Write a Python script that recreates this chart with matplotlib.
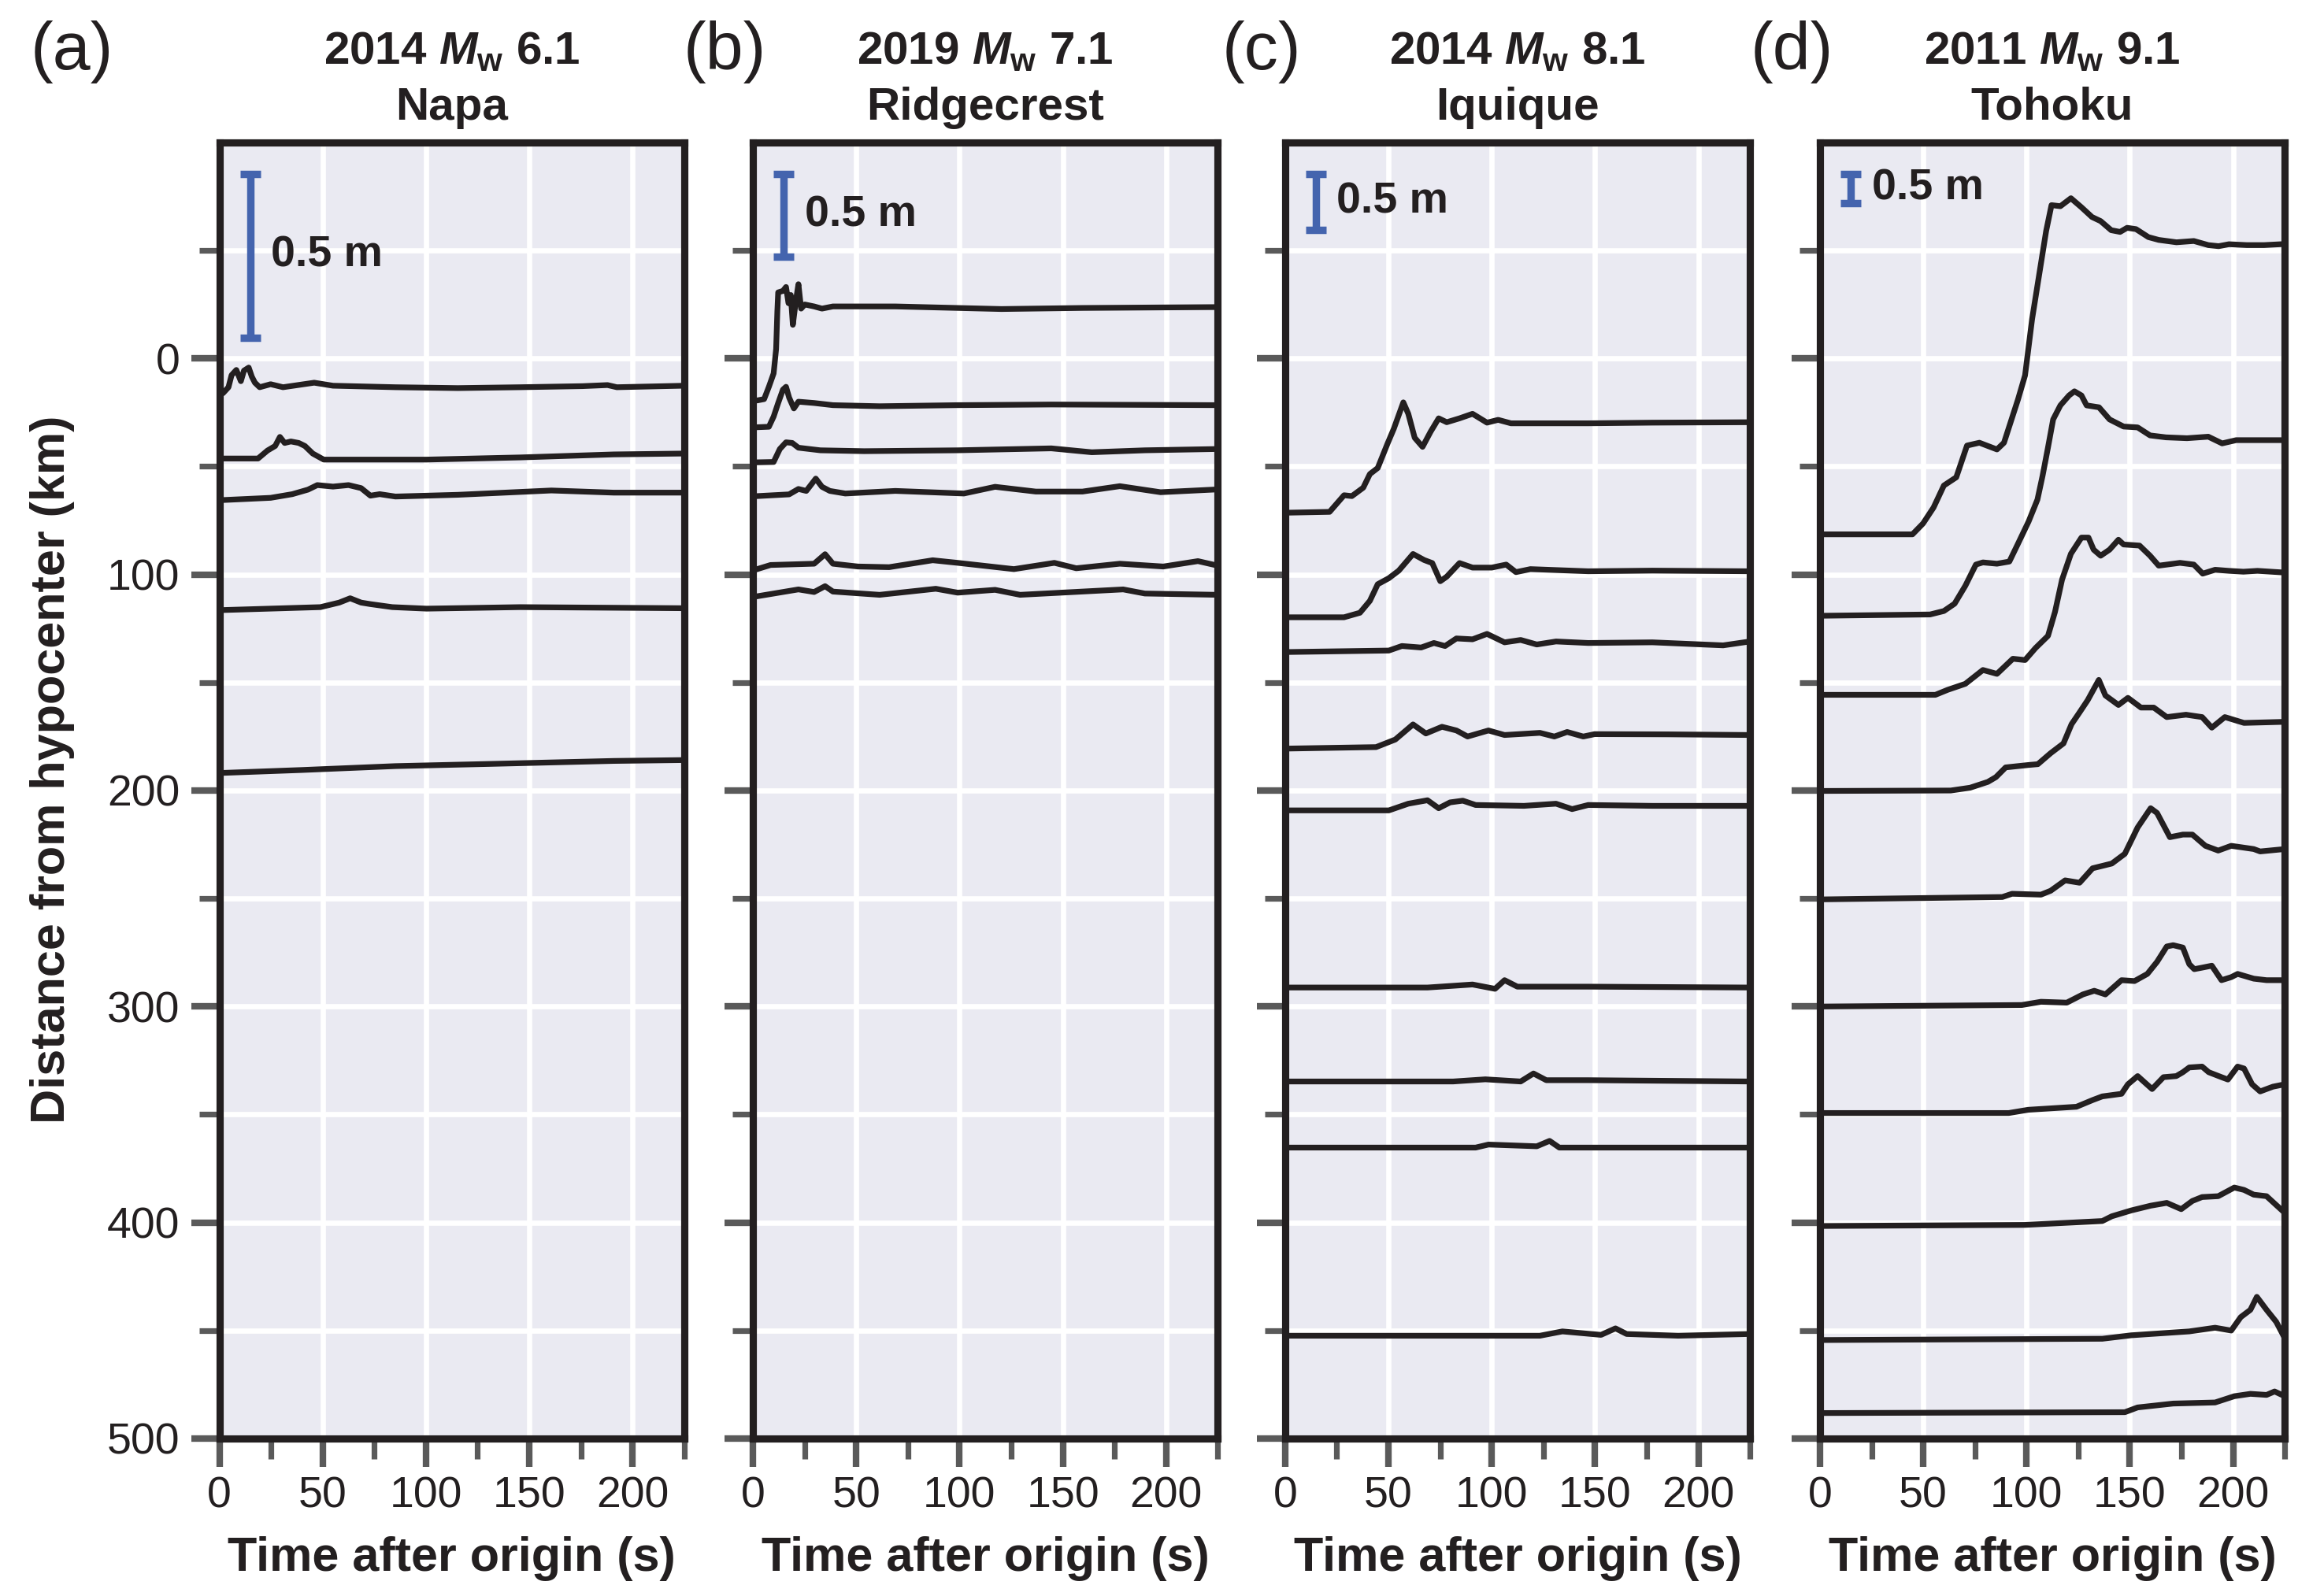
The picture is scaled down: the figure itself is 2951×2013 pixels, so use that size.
import matplotlib
matplotlib.use("Agg")
import matplotlib.pyplot as plt
from matplotlib.ticker import FixedLocator

plt.rcParams['font.family'] = ['Liberation Sans', 'DejaVu Sans']
plt.rcParams['mathtext.fontset'] = 'custom'
plt.rcParams['mathtext.it'] = 'Liberation Sans:italic:bold'
plt.rcParams['mathtext.rm'] = 'Liberation Sans:bold'
plt.rcParams['mathtext.bf'] = 'Liberation Sans:bold'

# ---- data: traces drawn at (time s, plotted distance km) ----
napa_t = [
    [0, 1.8, 4.4, 5.9, 8.2, 10.4, 11.9, 14.2, 15.7, 17.2, 19.5, 24.8, 30.8, 45.9, 55, 85.2, 115.4, 145.6, 175.8, 187.9, 192.4, 225],
    [0, 18.7, 23.3, 27, 29.3, 31.6, 34.6, 38.4, 41.4, 45.2, 50.5, 62.5, 100.3, 145.6, 190.9, 225],
    [0, 24.8, 35.3, 42.9, 47.4, 55, 62.5, 68.6, 73.1, 77.6, 85.2, 115.4, 160.7, 190.9, 225],
    [0, 48.9, 58, 63.3, 68.6, 73.1, 83.7, 100.3, 145.6, 225],
    [0, 39.9, 85.2, 130.5, 160.7, 190.9, 225],
]
napa_y = [
    [17, 16, 13.3, 7.7, 5.3, 10.5, 5.6, 4.2, 8.4, 11.2, 13.3, 11.9, 13.3, 11.2, 12.6, 13.3, 13.7, 13.3, 12.8, 12.3, 13.3, 12.6],
    [46.3, 46.3, 42.6, 40.5, 36.3, 39.1, 38.4, 39.1, 40.5, 44, 46.8, 46.8, 46.8, 45.8, 44.4, 44],
    [65.6, 64.5, 62.8, 60.7, 58.6, 59.3, 58.6, 60, 63.5, 62.8, 63.9, 63.1, 61.1, 62.1, 62.1],
    [116.5, 115.1, 113, 111, 113, 113.7, 115.1, 115.8, 115.1, 115.6],
    [191.9, 190.5, 188.7, 187.7, 187, 186.3, 185.9],
]

ridge_t = [
    [0, 2.1, 5.4, 7.7, 10, 11.2, 11.8, 12.2, 14.5, 16, 17.2, 18.3, 19.3, 20.8, 22, 23.3, 25.1, 29.6, 33.4, 38.7, 68.9, 120.2, 159.5, 225],
    [0, 7.7, 10, 12.2, 14.5, 16, 17.5, 19.8, 22, 29.6, 38.7, 61.3, 99.1, 144.4, 225],
    [0, 10, 13, 16, 19, 22, 32.6, 53.8, 99.1, 144.4, 164, 189.7, 225],
    [0, 17.5, 22, 25.8, 30.4, 33.4, 37.2, 44.7, 68.9, 102.1, 117.2, 136.9, 159.5, 177.6, 197.3, 225],
    [0, 8.5, 29.6, 34.9, 38.7, 50.8, 65.9, 87, 99.1, 126.3, 145.9, 156.5, 177.6, 198.6, 215.4, 225],
    [0, 22, 29.6, 34.9, 38.7, 61.3, 88.5, 99.1, 117.2, 129.3, 179.2, 189.7, 225],
]
ridge_y = [
    [19.4, 19.4, 18.8, 13.1, 6.9, -4.4, -21.9, -30.6, -31.3, -33.1, -25.6, -29.4, -15.6, -26.9, -34.4, -23.1, -25, -24.1, -23.1, -24.1, -24.1, -22.9, -23.4, -23.8],
    [31.9, 31.6, 26.9, 20.6, 14.4, 13.1, 18.1, 23.1, 20, 20.6, 21.6, 22.1, 21.6, 21.3, 21.6],
    [48.1, 47.9, 41.9, 38.8, 39.1, 41.3, 42.5, 42.9, 42.5, 41.6, 43.4, 42.5, 41.9],
    [63.8, 62.9, 60.4, 61.3, 55.6, 59.4, 61.3, 62.5, 61.3, 62.5, 59.4, 61.6, 61.6, 59.1, 61.9, 60.6],
    [98.1, 95.6, 95, 90.6, 95, 96.3, 96.6, 93.4, 94.6, 97.5, 94.6, 97.1, 95, 96.3, 93.8, 95.9],
    [110.4, 106.9, 108.1, 105.4, 107.9, 109.4, 106.6, 108.4, 107.1, 109.4, 106.9, 108.8, 109.4],
]

iqui_t = [
    [0, 21.5, 28.5, 32.3, 37.8, 41, 44.8, 49.5, 52.6, 57.2, 59.6, 62.7, 66.5, 70.4, 74.3, 78.2, 84.4, 90.7, 97.7, 103.1, 109.3, 146.7, 177.8, 225],
    [0, 28.5, 36.2, 41, 44.8, 50.2, 55, 61.9, 67.3, 71.2, 75.1, 78.2, 84.4, 90.7, 100, 107, 111.7, 118.7, 146.7, 177.8, 225],
    [0, 50.2, 56.5, 65.8, 72, 77.4, 82.9, 90.7, 97.7, 106.2, 114, 121.8, 131.1, 146.7, 177.8, 212, 225],
    [0, 44, 53.3, 61.9, 68.1, 75.9, 82.9, 88.3, 98.4, 106.2, 123.3, 130.3, 136.5, 144.3, 149.8, 185.5, 225],
    [0, 50.2, 59.6, 68.9, 74.3, 79.8, 86, 92.2, 115.6, 131.1, 138.9, 146.7, 177.8, 225],
    [0, 68.9, 90.7, 101.6, 106.2, 112.4, 146.7, 225],
    [0, 81.3, 96.9, 114, 120.2, 126.4, 146.7, 225],
    [0, 92.2, 98.4, 121.8, 128, 132.7, 225],
    [0, 123.3, 134.2, 152.9, 159.9, 165.3, 190.2, 225],
]
iqui_y = [
    [71.4, 71, 63.3, 63.7, 59.8, 53.5, 50.7, 39.5, 32.5, 20.3, 25.6, 36.7, 40.9, 33.9, 27.7, 29.5, 27.7, 25.6, 29.7, 28.4, 30, 30, 29.7, 29.5],
    [119.8, 119.8, 117.7, 112.2, 104.5, 101.7, 98.2, 90.5, 93.3, 94.7, 103.1, 101, 94.7, 96.8, 96.8, 95.4, 98.9, 97.5, 98.5, 98.2, 98.5],
    [135.9, 135.2, 133.1, 133.8, 131.7, 133.1, 129.6, 130, 127.5, 131.4, 130.3, 132.4, 131, 131.7, 131.4, 132.8, 131],
    [180.6, 179.9, 176.4, 169.4, 173.6, 170.5, 172.2, 175, 172.2, 174.3, 173.3, 175, 172.9, 175, 173.9, 174, 174.3],
    [209.2, 209.2, 206.1, 204.5, 208.2, 205.5, 204.7, 206.7, 207.1, 206.1, 208.6, 206.7, 207.1, 207.1],
    [291.2, 291.2, 289.8, 291.8, 287.8, 290.8, 290.8, 291.2],
    [334.7, 334.7, 333.7, 334.7, 331, 334.1, 334.1, 334.7],
    [365.3, 365.3, 363.9, 364.7, 362.2, 365.3, 365.3],
    [452.4, 452.4, 450.4, 452, 449, 451.6, 452.4, 451.6],
]

toho_t = [
    [0, 44.8, 49.9, 55, 60, 66, 71.2, 77.2, 85.7, 89.1, 95.9, 99.3, 102.7, 106.1, 109.5, 112.1, 116.4, 121.5, 126.6, 131.7, 135.9, 141, 145.3, 148.7, 153, 159, 164, 172.6, 181, 188, 193, 198, 206.6, 215, 225],
    [0, 53.3, 60, 65.2, 70.4, 75.5, 78.9, 85.7, 91.7, 95.9, 101, 105.3, 107.8, 110.4, 112.9, 116.4, 120.6, 123.2, 126.6, 129.1, 135.1, 140.2, 147, 153.8, 159.8, 167.5, 177.7, 188, 194.7, 201.5, 211.8, 225],
    [0, 55.9, 61.8, 70.4, 78.9, 85.7, 93.4, 99.3, 104.4, 110.4, 113.8, 117.2, 121.5, 126.6, 130, 132.5, 135.9, 140.2, 144.5, 147, 154.7, 159.8, 164, 174.3, 181, 185.3, 191.3, 198, 205, 211.8, 225],
    [0, 63.3, 72.7, 81.3, 85.2, 89.9, 100.8, 105.5, 111.7, 117.9, 121.8, 125.7, 129.6, 135, 138.2, 144.5, 149.1, 155.4, 161.6, 167.9, 177.2, 185, 189.7, 196, 205.3, 225],
    [0, 88.3, 93, 107, 111.7, 118.7, 125.7, 132, 141.3, 147.6, 153.8, 160.1, 163.2, 169.4, 175.7, 180.3, 186.6, 192.8, 199.1, 210, 213.1, 225],
    [0, 97.7, 107, 119.5, 127.3, 132.8, 138.2, 146, 152.3, 158.5, 163.2, 167.9, 171, 175.7, 178.8, 181.2, 185, 189.7, 194.4, 199.1, 202.2, 210, 216.2, 225],
    [0, 91.4, 100.8, 124.2, 132, 136.7, 146, 149.1, 153.8, 160.8, 166.3, 172.5, 175.7, 178.8, 185, 188.2, 194.4, 197.5, 202.2, 205.3, 209.2, 213.1, 219.3, 225],
    [0, 99.2, 136.7, 141.3, 150.7, 160.1, 167.9, 174.9, 180.3, 185, 192.8, 200.6, 205.3, 210, 216.2, 225],
    [0, 136.7, 150.7, 178.8, 191.3, 199.1, 203.7, 208.4, 211.5, 216.2, 220.9, 225],
    [0, 147.6, 153.8, 171, 191.3, 200.6, 208.4, 216.2, 220.1, 225],
]
toho_y = [
    [81.4, 81.4, 76.4, 69, 58.8, 55, 40.3, 39, 42.1, 39, 18.9, 7.8, -18.2, -38.6, -59, -71, -70.5, -74.2, -70, -65.5, -63.6, -59.4, -58.6, -60.5, -59.9, -56.2, -54.9, -53.8, -54.4, -52.5, -52, -52.9, -52.5, -52.5, -53],
    [119.1, 118.5, 116.9, 113.5, 105.2, 95.4, 94.4, 95, 94, 85.7, 75.5, 65.3, 54.2, 41.2, 28.2, 21.7, 17.1, 15.2, 17.1, 21.7, 22.6, 28.2, 31.5, 31.9, 35.6, 36.5, 36.9, 36.2, 39.3, 37.8, 37.8, 37.8],
    [155.7, 155.7, 153.4, 150.6, 144.2, 146, 139, 139.6, 134, 128.4, 117.3, 102.4, 90.4, 82.9, 82.9, 88.5, 91.3, 88.5, 83.9, 86.1, 86.6, 91.3, 95.9, 94.6, 95.4, 99.6, 97.8, 98.3, 98.7, 98.3, 99.1],
    [200.2, 200, 198.7, 196, 193.8, 189.3, 188.2, 187.8, 182.7, 178.2, 169.3, 163.8, 158.2, 148.8, 156, 160.4, 157.1, 161.6, 161.6, 166, 164.9, 166, 170.9, 166, 168.7, 168.2],
    [250.4, 249.3, 247.8, 248.2, 246.4, 241.6, 242.7, 236, 233.8, 229.3, 217.1, 208.2, 210.4, 221.6, 220.4, 220.4, 225.6, 227.8, 225.6, 227.1, 228.2, 227.1],
    [300, 299.3, 297.8, 298.2, 294.4, 292.7, 294.4, 287.8, 288.2, 284.9, 279.3, 272.2, 271.6, 272.7, 280.4, 282.7, 282, 281.1, 287.8, 286.4, 284.9, 287.1, 287.8, 287.8],
    [349.3, 349.3, 347.8, 346.4, 343.3, 341.6, 340.4, 336, 332.2, 338.2, 332.7, 332.2, 330.4, 328.2, 327.8, 330.4, 332.7, 333.8, 327.8, 328.7, 336, 339.3, 337.1, 336],
    [401.6, 401.1, 399.3, 397.1, 394.4, 392.2, 390.9, 393.8, 390, 388.2, 387.8, 383.8, 384.9, 387.1, 387.8, 395.5],
    [454.4, 453.8, 452.2, 450.4, 448.7, 450, 443.8, 440.4, 434.4, 440.4, 446, 453.5],
    [488.2, 487.8, 485.6, 483.8, 483.3, 480.4, 479.3, 479.8, 478.2, 480.4],
]

panel_letters = ['(a)', '(b)', '(c)', '(d)']
titles_top = [r'2014 $M_{\mathrm{w}}$ 6.1', r'2019 $M_{\mathrm{w}}$ 7.1',
              r'2014 $M_{\mathrm{w}}$ 8.1', r'2011 $M_{\mathrm{w}}$ 9.1']
titles_bottom = ['Napa', 'Ridgecrest', 'Iquique', 'Tohoku']
bar_len_km = [75.8, 38.2, 26.0, 13.4]   # length of the 0.5 m bar in plot units
bar_top = -85.5

all_t = [napa_t, ridge_t, iqui_t, toho_t]
all_y = [napa_y, ridge_y, iqui_y, toho_y]

# ---- figure ----
fig = plt.figure(figsize=(14.755, 10.065), dpi=200)
lefts = [0.0944, 0.3240, 0.5530, 0.7831]
letter_x = [0.031, 0.312, 0.543, 0.771]
trace_col = '#231f20'
tick_col = '#5a5a5a'
bar_col = '#4464ae'

for i in range(4):
    ax = fig.add_axes([lefts[i], 0.0924, 0.2, 0.8177])
    ax.set_facecolor('#eaeaf2')
    ax.set_xlim(0, 225)
    ax.set_ylim(500, -100)
    ax.xaxis.set_major_locator(FixedLocator([0, 50, 100, 150, 200]))
    ax.xaxis.set_minor_locator(FixedLocator([25, 75, 125, 175, 225]))
    ax.yaxis.set_major_locator(FixedLocator([0, 100, 200, 300, 400, 500]))
    ax.yaxis.set_minor_locator(FixedLocator([-50, 50, 150, 250, 350, 450]))
    ax.set_axisbelow(True)
    ax.grid(True, axis='x', which='major', color='white', lw=2.4)
    ax.grid(True, axis='y', which='both', color='white', lw=2.4)
    for s in ax.spines.values():
        s.set_linewidth(3.3)
        s.set_color(trace_col)
    ax.tick_params(which='major', length=13, width=3.0, color=tick_col,
                   labelsize=20, labelcolor=trace_col)
    ax.tick_params(which='minor', length=9.2, width=2.6, color=tick_col)
    ax.tick_params(axis='x', pad=4)
    ax.tick_params(axis='y', pad=5)
    if i > 0:
        ax.tick_params(axis='y', labelleft=False)

    for tt, yy in zip(all_t[i], all_y[i]):
        ax.plot(tt, yy, color=trace_col, lw=2.6, solid_joinstyle='round')

    half = bar_len_km[i] / 2
    ax.errorbar([15], [bar_top + half], yerr=[half], color=bar_col, lw=3.4,
                capsize=4.8, capthick=3.4)
    ax.text(25, bar_top + half, '0.5 m', fontsize=20, fontweight='bold',
            color=trace_col, va='center', ha='left')

    cx = lefts[i] + 0.1
    fig.text(cx, 0.967, titles_top[i], fontsize=21, fontweight='bold',
             ha='center', va='center', color=trace_col)
    fig.text(cx, 0.932, titles_bottom[i], fontsize=21, fontweight='bold',
             ha='center', va='center', color=trace_col)
    fig.text(letter_x[i], 0.967, panel_letters[i], fontsize=31,
             ha='center', va='center', color=trace_col)
    fig.text(cx, 0.0164, 'Time after origin (s)', fontsize=22,
             fontweight='bold', ha='center', va='center', color=trace_col)

fig.text(0.0224, 0.5147, 'Distance from hypocenter (km)', fontsize=22,
         fontweight='bold', rotation=90, ha='center', va='center', color=trace_col)

fig.savefig('out.png', dpi=200)
